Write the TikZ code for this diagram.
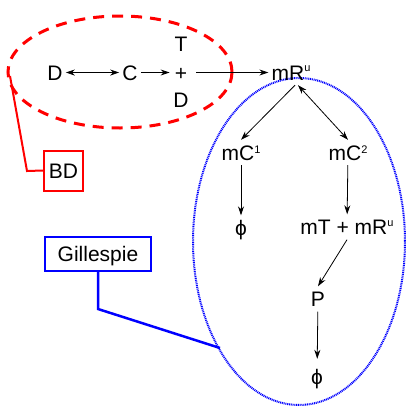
\documentclass[tikz,border=0pt]{standalone}
\usepackage{fontspec}
\setmainfont{Liberation Sans}
\usetikzlibrary{arrows.meta}
\newcommand\supd[1]{\raisebox{7pt}{\fontsize{11}{11}\selectfont #1}}
\newcommand\supu[1]{\raisebox{8.5pt}{\fontsize{11}{11}\selectfont #1}}
\begin{document}
\begin{tikzpicture}[x=1pt,y=-1pt,
  lbl/.style={font=\fontsize{21}{25}\selectfont, text height=15pt, text depth=0pt, inner xsep=3pt, inner ysep=5pt},
  arr/.style={-{Stealth[length=9pt,width=6pt]}, line width=0.8pt},
  darr/.style={{Stealth[length=9pt,width=6pt]}-{Stealth[length=9pt,width=6pt]}, line width=0.8pt},
  tagbox/.style={font=\fontsize{21}{25}\selectfont, text height=15pt, text depth=0pt, line width=2pt, inner xsep=2pt, inner ysep=0pt, minimum height=40pt},
]
\useasboundingbox (0,0) rectangle (406,408);
% ellipses
\draw[red, line width=3pt, dash pattern=on 11pt off 8pt] (120,72) ellipse [x radius=112, y radius=56];
\draw[blue, line width=2pt, dash pattern=on 1pt off 0.8pt] (299,241.5) ellipse [x radius=106, y radius=163.5];
% nodes
\node[lbl] (D1) at (55,72.5) {D};
\node[lbl] (C) at (130,72.5) {C};
\node[lbl] (T) at (181,44) {T};
\node[lbl] (plus) at (181,72.5) {+};
\node[lbl] (D2) at (181,100) {D};
\node[lbl] (mR) at (291,72.5) {mR\supu{u}};
\node[lbl] (mC1) at (241,152.5) {mC\supd{1}};
\node[lbl] (mC2) at (348,152.5) {mC\supd{2}};
\node[lbl] (phi1) at (241,228) {ϕ};
\node[lbl] (mTR) at (347,227) {mT + mR\supu{u}};
\node[lbl] (P) at (318,299) {P};
\node[lbl] (phi2) at (317,376.5) {ϕ};
% tags
\node[tagbox, draw=red, minimum width=39pt] (BD) at (63.5,170.5) {BD};
\node[tagbox, draw=blue, minimum width=106pt, minimum height=34pt] (G) at (98,254) {Gillespie};
\coordinate (bdk) at (27,171);
\coordinate (bde) at (10,76);
\coordinate (gk) at (98,309);
\coordinate (ge) at (220,348);
\draw[red, line width=2pt] (BD.west) -- (bdk) -- (bde);
\draw[blue, line width=2.5pt] (G.south) -- (gk) -- (ge);
% arrows
\draw[darr] (D1) -- (C);
\draw[arr, shorten >=2pt] (C) -- (plus);
\draw[arr, shorten <=6pt] (plus) -- (mR);
\draw[arr] ([xshift=4pt]mR.south) -- (mC1.north);
\draw[darr] ([xshift=7pt]mR.south) -- (mC2.north);
\draw[arr] (mC1) -- (phi1);
\draw[arr] (mC2) -- (mTR);
\draw[arr] (mTR.south) -- (P.north);
\draw[arr, shorten >=5pt] (P) -- (phi2);
\end{tikzpicture}
\end{document}
